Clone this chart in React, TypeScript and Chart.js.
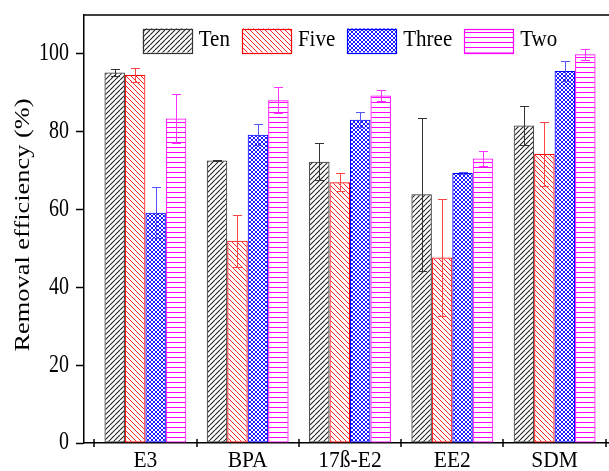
import React, { useEffect, useRef } from 'react';
import { Chart, registerables } from 'chart.js';

Chart.register(...registerables);

const categories = ['E3', 'BPA', '17ß-E2', 'EE2', 'SDM'];
const seriesNames = ['Ten', 'Five', 'Three', 'Two'];
const tenValues = [95.2, 72.6, 72.3, 63.9, 81.6];
const tenErrors = [0.8, 0.2, 4.7, 19.6, 5.0];
const fiveValues = [94.6, 52.0, 67.0, 47.7, 74.3];
const fiveErrors = [1.9, 6.7, 2.3, 15.0, 8.3];
const threeValues = [59.2, 79.2, 83.1, 69.4, 95.6];
const threeErrors = [6.6, 2.7, 2.0, 0.3, 2.5];
const twoValues = [83.4, 88.1, 89.3, 73.1, 99.9];
const twoErrors = [6.3, 3.4, 1.5, 1.9, 1.4];
const yTicks = [0, 20, 40, 60, 80, 100];
const yMin = 0;
const yMax = 110;
const yTitle = 'Removal efficiency (%)';

const FONT = "'Liberation Serif', 'Times New Roman', serif";
const X_PAD = 0.1;

function makePattern(kind: string, color: string, size: number, lw: number) {
  const c = document.createElement('canvas');
  c.width = size;
  c.height = size;
  const ctx = c.getContext('2d')!;
  ctx.strokeStyle = color;
  ctx.lineWidth = lw;
  ctx.beginPath();
  if (kind === 'fwd' || kind === 'cross') {
    for (let k = -1; k <= 1; k++) {
      ctx.moveTo(k * size, size);
      ctx.lineTo(k * size + size, 0);
    }
  }
  if (kind === 'back' || kind === 'cross') {
    for (let k = -1; k <= 1; k++) {
      ctx.moveTo(k * size, 0);
      ctx.lineTo(k * size + size, size);
    }
  }
  if (kind === 'horiz') {
    ctx.moveTo(0, size / 2);
    ctx.lineTo(size, size / 2);
  }
  ctx.stroke();
  return ctx.createPattern(c, 'repeat') as CanvasPattern;
}

// text drawn with a slight vertical stretch, as in the reference figure
function drawText(
  ctx: CanvasRenderingContext2D,
  text: string,
  x: number,
  y: number,
  size: number,
  sy: number,
  align: CanvasTextAlign,
  rot = 0
) {
  ctx.save();
  ctx.translate(x, y);
  ctx.scale(1, sy);
  if (rot) ctx.rotate(rot);
  ctx.font = `${size}px ${FONT}`;
  ctx.textAlign = align;
  ctx.textBaseline = 'middle';
  ctx.fillStyle = '#000';
  ctx.fillText(text, 0, 0);
  ctx.restore();
}

const decorPlugin = {
  id: 'decor',
  afterDatasetsDraw(chart: any) {
    const ctx = chart.ctx;
    const yScale = chart.scales.y;
    chart.data.datasets.forEach((ds: any, i: number) => {
      const meta = chart.getDatasetMeta(i);
      ctx.save();
      ctx.strokeStyle = ds.errColor;
      ctx.lineWidth = 1;
      meta.data.forEach((bar: any, j: number) => {
        const v = ds.data[j];
        const e = ds.errors[j];
        const x = Math.round(bar.x) + 0.5;
        const yTop = Math.round(yScale.getPixelForValue(v + e)) + 0.5;
        const yBot = Math.round(yScale.getPixelForValue(v - e)) + 0.5;
        const cap = 4.5;
        ctx.beginPath();
        ctx.moveTo(x, yTop);
        ctx.lineTo(x, yBot);
        ctx.moveTo(x - cap, yTop);
        ctx.lineTo(x + cap, yTop);
        ctx.moveTo(x - cap, yBot);
        ctx.lineTo(x + cap, yBot);
        ctx.stroke();
      });
      ctx.restore();
    });
  },
  afterDraw(chart: any) {
    const ctx = chart.ctx;
    const area = chart.chartArea;
    const xScale = chart.scales.x;
    const yScale = chart.scales.y;
    ctx.save();
    // frame (top / right)
    ctx.strokeStyle = '#000';
    ctx.lineWidth = 1.5;
    ctx.beginPath();
    ctx.moveTo(area.left, area.top);
    ctx.lineTo(area.right, area.top);
    ctx.lineTo(area.right, area.bottom);
    ctx.stroke();
    // x ticks at category boundaries, crossing the axis
    ctx.beginPath();
    for (let i = 0; i <= categories.length; i++) {
      const x = Math.round(xScale.getPixelForValue(i - 0.5));
      ctx.moveTo(x, area.bottom - 4);
      ctx.lineTo(x, area.bottom + 4);
    }
    ctx.stroke();
    ctx.restore();

    // y tick labels
    yTicks.forEach((v) => {
      drawText(ctx, String(v), area.left - 15, yScale.getPixelForValue(v), 20, 1.22, 'right');
    });
    // x tick labels
    categories.forEach((c, i) => {
      drawText(ctx, c, xScale.getPixelForValue(i), area.bottom + 18, 21.5, 1.12, 'center');
    });
    // y title
    drawText(ctx, yTitle, 23, (area.top + area.bottom) / 2 - 4, 22, 1.2, 'center', -Math.PI / 2);

    // legend
    ctx.save();
    const boxW = 49;
    const boxH = 24;
    const gapText = 7;
    const gapItem = 12;
    ctx.font = `21px ${FONT}`;
    const widths = chart.data.datasets.map((ds: any) => ctx.measureText(ds.label).width);
    let total = 0;
    widths.forEach((w: number, i: number) => {
      total += boxW + gapText + w + (i < widths.length - 1 ? gapItem : 0);
    });
    let x = (area.left + area.right) / 2 - total / 2;
    const top = area.top + 13.5;
    chart.data.datasets.forEach((ds: any, i: number) => {
      ctx.fillStyle = '#fff';
      ctx.fillRect(x, top, boxW, boxH);
      ctx.fillStyle = ds.backgroundColor;
      ctx.fillRect(x, top, boxW, boxH);
      ctx.strokeStyle = ds.borderColor;
      ctx.lineWidth = 1.2;
      ctx.strokeRect(Math.round(x) + 0.5, Math.round(top) + 0.5, boxW, boxH);
      drawText(ctx, ds.label, x + boxW + gapText, top + boxH / 2, 21, 1.08, 'left');
      x += boxW + gapText + widths[i] + gapItem;
    });
    ctx.restore();
  },
};

export default function App() {
  const ref = useRef<HTMLCanvasElement>(null);

  useEffect(() => {
    const canvas = ref.current!;
    const seriesValues = [tenValues, fiveValues, threeValues, twoValues];
    const seriesErrors = [tenErrors, fiveErrors, threeErrors, twoErrors];
    const borderColors = ['#333333', '#ff0000', '#0000ff', '#ff00ff'];
    const errColors = ['#333333', '#ff4444', '#5555ff', '#ff33ff'];
    const patterns = [
      makePattern('fwd', '#222222', 5, 1.1),
      makePattern('back', '#ff2222', 5, 1.0),
      makePattern('cross', '#0000ff', 4, 0.9),
      makePattern('horiz', '#ff00ff', 5, 1),
    ];

    const chart = new Chart(canvas, {
      type: 'bar',
      data: {
        labels: categories,
        datasets: seriesNames.map((name, i) => ({
          label: name,
          data: seriesValues[i],
          errors: seriesErrors[i],
          errColor: errColors[i],
          backgroundColor: patterns[i],
          borderColor: borderColors[i],
          borderWidth: 1,
          borderSkipped: false,
          categoryPercentage: 0.8,
          barPercentage: 1.0,
        })) as any,
      },
      options: {
        animation: false,
        responsive: false,
        devicePixelRatio: 1,
        layout: { padding: { top: 15, right: 4, left: 0, bottom: 0 } },
        plugins: {
          legend: { display: false },
          tooltip: { enabled: false },
        },
        scales: {
          x: {
            type: 'category',
            offset: true,
            grid: { display: false, drawTicks: false },
            border: { display: true, color: '#000', width: 1.5 },
            ticks: { display: false, autoSkip: false },
            afterBuildTicks: (s: any) => {
              s._startValue -= X_PAD;
              s._valueRange += 2 * X_PAD;
            },
            afterFit: (s: any) => {
              s.height = 28;
              s.paddingLeft = 0;
              s.paddingRight = 0;
            },
          },
          y: {
            min: yMin,
            max: yMax,
            grid: {
              drawOnChartArea: false,
              drawTicks: true,
              tickLength: 8,
              tickColor: '#000',
              tickWidth: 1.5,
            },
            border: { display: true, color: '#000', width: 1.5 },
            ticks: { display: false },
            afterBuildTicks: (s: any) => {
              s.ticks = yTicks.map((v) => ({ value: v }));
            },
            afterFit: (s: any) => {
              s.width = 84;
              s.paddingTop = 0;
              s.paddingBottom = 0;
            },
            title: { display: false },
          },
        },
      } as any,
      plugins: [decorPlugin],
    });
    return () => chart.destroy();
  }, []);

  return (
    <div
      style={{
        position: 'absolute',
        left: 0,
        top: 0,
        width: 609,
        height: 471,
        overflow: 'hidden',
        background: '#fff',
      }}
    >
      <canvas
        ref={ref}
        width={620}
        height={471}
        style={{ display: 'block', width: '620px', height: '471px' }}
      />
    </div>
  );
}
